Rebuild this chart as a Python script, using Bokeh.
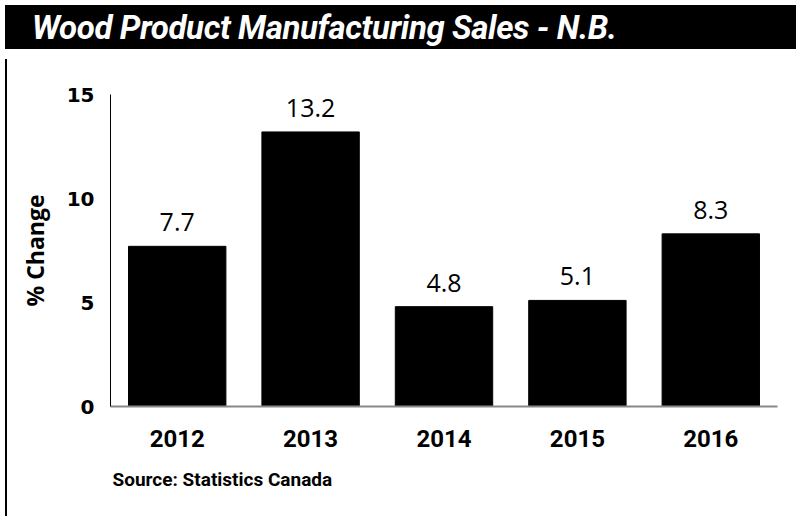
from bokeh.plotting import figure
from bokeh.models import ColumnDataSource, Div, Title, FactorRange, Range1d, FixedTicker
from bokeh.layouts import column, row
from bokeh.embed import file_html
from bokeh.resources import INLINE
from bokeh.core.properties import value

years = ["2012", "2013", "2014", "2015", "2016"]
pct_change = [7.7, 13.2, 4.8, 5.1, 8.3]
y_ticks = [0, 5, 10, 15]

title_text = "Wood Product Manufacturing Sales - N.B."
source_text = "Source: Statistics Canada"

src = ColumnDataSource(dict(x=years, y=pct_change, lbl=[f"{v:.1f}" for v in pct_change]))

header = Div(
    text=title_text,
    width=791, height=44,
    styles={
        "background-color": "black",
        "color": "white",
        "font-family": "Roboto, sans-serif",
        "font-weight": "bold",
        "font-style": "italic",
        "font-size": "33px",
        "line-height": "46px",
        "padding-left": "27px",
        "box-sizing": "border-box",
        "white-space": "nowrap",
        "overflow": "hidden",
        "letter-spacing": "-0.4px",
    },
)

border_line = Div(text="", width=2, height=464, styles={"background-color": "black"})

p = figure(
    x_range=FactorRange(*years, range_padding=0),
    y_range=Range1d(0, 15),
    width=789, height=464,
    output_backend="svg", toolbar_location=None,
    min_border_left=98, min_border_right=24, min_border_top=40, min_border_bottom=112,
)
p.vbar(x="x", top="y", width=0.73, source=src, color="black")
p.text(x="x", y="y", text="lbl", source=src, y_offset=-24,
       text_align="center", text_baseline="alphabetic",
       text_font=value("Open Sans"), text_font_size="25px", text_color="black")

p.xgrid.visible = False
p.ygrid.visible = False
p.outline_line_color = None
p.background_fill_color = "white"
p.border_fill_color = "white"

p.yaxis.ticker = FixedTicker(ticks=y_ticks)
p.yaxis.axis_line_color = "black"
p.yaxis.axis_line_width = 1
p.yaxis.major_tick_line_color = None
p.yaxis.minor_tick_line_color = None
p.yaxis.major_label_text_font = "DejaVu Sans"
p.yaxis.major_label_text_font_style = "bold"
p.yaxis.major_label_text_font_size = "20px"
p.yaxis.major_label_text_color = "black"
p.yaxis.major_label_standoff = 10
p.yaxis.axis_label = "% Change"
p.yaxis.axis_label_text_font = "Open Sans"
p.yaxis.axis_label_text_font_style = "bold"
p.yaxis.axis_label_text_font_size = "23px"
p.yaxis.axis_label_text_color = "black"
p.yaxis.axis_label_standoff = 13

p.xaxis.axis_line_color = "#888888"
p.xaxis.axis_line_width = 2
p.xaxis.major_tick_line_color = None
p.xaxis.minor_tick_line_color = None
p.xaxis.major_label_text_font = "Roboto"
p.xaxis.major_label_text_font_style = "bold"
p.xaxis.major_label_text_font_size = "24px"
p.xaxis.major_label_text_color = "black"
p.xaxis.major_label_standoff = 17

src_title = Title(text=source_text, align="left", text_font="Roboto",
                  text_font_style="bold", text_font_size="19px", text_color="black",
                  standoff=33, offset=2)
p.add_layout(src_title, "below")

layout = column(header, row(border_line, p, spacing=0), spacing=0)

open("out.html", "w").write(file_html(layout, INLINE))
